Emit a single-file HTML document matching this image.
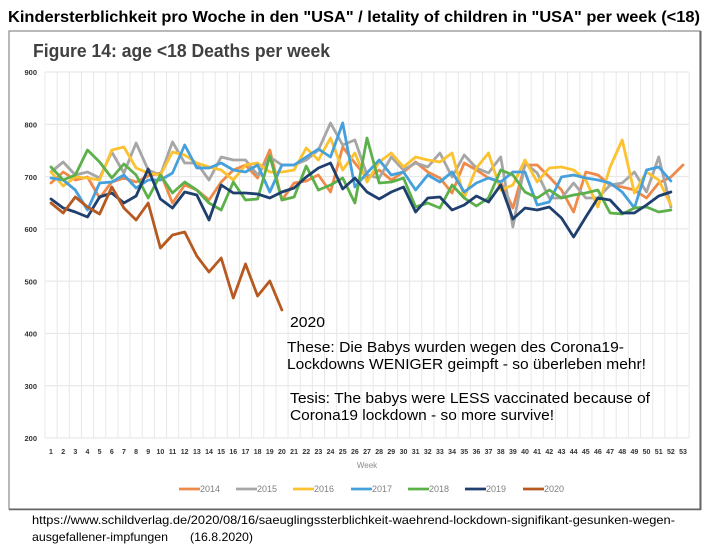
<!DOCTYPE html>
<html><head><meta charset="utf-8"><style>
html,body{margin:0;padding:0;background:#fff;}
svg{display:block;}
</style></head><body>
<svg width="710" height="552" viewBox="0 0 710 552" xmlns="http://www.w3.org/2000/svg">
<rect width="710" height="552" fill="#fff"/>
<text x="8" y="22" font-family="Liberation Sans, Arial, sans-serif" font-weight="bold" font-size="16" fill="#000" textLength="692" lengthAdjust="spacingAndGlyphs">Kindersterblichkeit pro Woche in den "USA" / letality of children in "USA" per week (&lt;18)</text>
<rect x="9" y="31" width="691" height="478" fill="#fff" stroke="#8a8a8a" stroke-width="1.2"/>
<line x1="700.5" y1="31" x2="700.5" y2="510" stroke="#666" stroke-width="2"/>
<line x1="9" y1="509.5" x2="701" y2="509.5" stroke="#666" stroke-width="1.5"/>
<text x="33" y="57" font-family="Liberation Sans, Arial, sans-serif" font-weight="bold" font-size="18" fill="#404040" textLength="297" lengthAdjust="spacingAndGlyphs">Figure 14: age &lt;18 Deaths per week</text>
<g stroke="#e4e4e4" stroke-width="1">
<line x1="45" y1="72" x2="689" y2="72"/><line x1="45" y1="124.3" x2="689" y2="124.3"/><line x1="45" y1="176.6" x2="689" y2="176.6"/><line x1="45" y1="228.9" x2="689" y2="228.9"/><line x1="45" y1="281.1" x2="689" y2="281.1"/><line x1="45" y1="333.4" x2="689" y2="333.4"/><line x1="45" y1="385.7" x2="689" y2="385.7"/><line x1="45" y1="438" x2="689" y2="438"/>
</g>
<g stroke="#e8e8e8" stroke-width="1" id="vg"></g>
<g font-family="Liberation Sans, Arial, sans-serif" font-weight="bold" font-size="7.5" fill="#333" text-anchor="end">
<text x="37" y="75">900</text><text x="37" y="127.5">800</text><text x="37" y="179.8">700</text><text x="37" y="232">600</text><text x="37" y="284.3">500</text><text x="37" y="336.6">400</text><text x="37" y="388.9">300</text><text x="37" y="441">200</text>
</g>
<g id="xl" font-family="Liberation Sans, Arial, sans-serif" font-weight="bold" font-size="7" fill="#333" text-anchor="middle"></g>
<text x="367" y="468" font-family="Liberation Sans, Arial, sans-serif" font-size="8" fill="#8a8a8a" text-anchor="middle">Week</text>
<g id="series" fill="none" stroke-width="2.8" stroke-linejoin="round" stroke-linecap="round"></g>
<g font-family="Liberation Sans, Arial, sans-serif" font-size="9" fill="#808080">
<line x1="179" y1="489" x2="200" y2="489" stroke="#f08a4b" stroke-width="2.8"/><text x="200" y="492">2014</text>
<line x1="236" y1="489" x2="257" y2="489" stroke="#a6a6a6" stroke-width="2.8"/><text x="257" y="492">2015</text>
<line x1="293" y1="489" x2="314" y2="489" stroke="#fcc22f" stroke-width="2.8"/><text x="314" y="492">2016</text>
<line x1="351" y1="489" x2="372" y2="489" stroke="#45a0dc" stroke-width="2.8"/><text x="372" y="492">2017</text>
<line x1="408" y1="489" x2="429" y2="489" stroke="#5cb04a" stroke-width="2.8"/><text x="429" y="492">2018</text>
<line x1="465" y1="489" x2="486" y2="489" stroke="#1f3f6f" stroke-width="2.8"/><text x="486" y="492">2019</text>
<line x1="523" y1="489" x2="544" y2="489" stroke="#b65a22" stroke-width="2.8"/><text x="544" y="492">2020</text>
</g>
<g font-family="Liberation Sans, Arial, sans-serif" font-size="15" fill="#000">
<text x="290" y="327" textLength="35" lengthAdjust="spacingAndGlyphs">2020</text>
<text x="287" y="352" textLength="337" lengthAdjust="spacingAndGlyphs">These: Die Babys wurden wegen des Corona19-</text>
<text x="287" y="369" textLength="359" lengthAdjust="spacingAndGlyphs">Lockdowns WENIGER geimpft - so überleben mehr!</text>
<text x="290" y="403" textLength="360" lengthAdjust="spacingAndGlyphs">Tesis: The babys were LESS vaccinated because of</text>
<text x="290" y="420" textLength="264" lengthAdjust="spacingAndGlyphs">Corona19 lockdown - so more survive!</text>
</g>
<g font-family="Liberation Sans, Arial, sans-serif" font-size="12" fill="#000">
<text x="32" y="524" textLength="643" lengthAdjust="spacingAndGlyphs">https://www.schildverlag.de/2020/08/16/saeuglingssterblichkeit-waehrend-lockdown-signifikant-gesunken-wegen-</text>
<text x="32" y="541" textLength="136" lengthAdjust="spacingAndGlyphs">ausgefallener-impfungen</text>
<text x="190" y="541" textLength="63" lengthAdjust="spacingAndGlyphs">(16.8.2020)</text>
</g>
</svg>
<script>
(function(){
var NS="http://www.w3.org/2000/svg";
function X(w){return 51+(w-1)*12.154;}
var vg=document.getElementById("vg");
for(var k=0;k<=53;k++){var x=45+k*12.154;var l=document.createElementNS(NS,"line");l.setAttribute("x1",x);l.setAttribute("x2",x);l.setAttribute("y1",72);l.setAttribute("y2",438);vg.appendChild(l);}
var xl=document.getElementById("xl");
for(var w=1;w<=53;w++){var t=document.createElementNS(NS,"text");t.setAttribute("x",X(w));t.setAttribute("y",454);t.textContent=w;xl.appendChild(t);}
var S=[
["#f08a4b",[183,172,180,177,198,182,178,182,176,173,203,185,190,200,182,170,165,178,150,200,183,181,175,192,147,163,178,170,180,172,162,172,178,193,163,170,178,182,208,165,165,177,190,212,172,175,185,187,190,198,183,177,165]],
["#a6a6a6",[172,162,175,172,178,152,173,143,170,175,142,163,163,180,157,160,160,175,157,165,165,160,150,123,145,140,175,178,157,170,163,167,153,177,155,168,173,157,227,163,173,198,198,183,198,198,185,183,172,192,157,207]],
["#fcc22f",[172,186,177,178,180,150,147,168,173,175,152,155,163,167,170,180,165,163,172,172,170,148,160,138,170,153,182,162,153,167,157,160,162,153,198,168,153,190,185,160,182,168,167,170,180,207,167,140,193,172,180,205]],
["#45a0dc",[178,180,190,210,183,182,175,188,180,180,173,145,168,168,163,170,172,165,192,165,165,157,149,157,123,187,173,160,175,172,190,175,182,172,192,183,178,182,172,172,205,202,177,175,178,180,183,192,208,170,167,181]],
["#5cb04a",[167,180,175,150,162,178,164,175,198,175,193,182,190,203,210,182,200,199,156,200,197,166,190,185,178,203,138,183,182,178,207,203,208,185,198,206,198,170,175,192,198,190,198,195,193,190,213,214,208,207,212,210]],
["#1f3f6f",[199,208,212,217,197,193,203,196,169,199,208,192,195,220,185,193,193,194,198,192,188,177,168,163,189,178,192,199,192,187,212,198,197,210,205,196,202,185,219,208,210,207,218,237,217,198,200,213,213,205,196,192]],
["#b65a22",[203,213,197,207,214,187,208,220,203,248,235,232,256,272,258,298,264,296,281,310]]
];
var g=document.getElementById("series");
S.forEach(function(s){var p=s[1].map(function(y,i){return X(i+1).toFixed(1)+","+y;}).join(" ");var pl=document.createElementNS(NS,"polyline");pl.setAttribute("points",p);pl.setAttribute("stroke",s[0]);g.appendChild(pl);});
})();
</script>
</body></html>
